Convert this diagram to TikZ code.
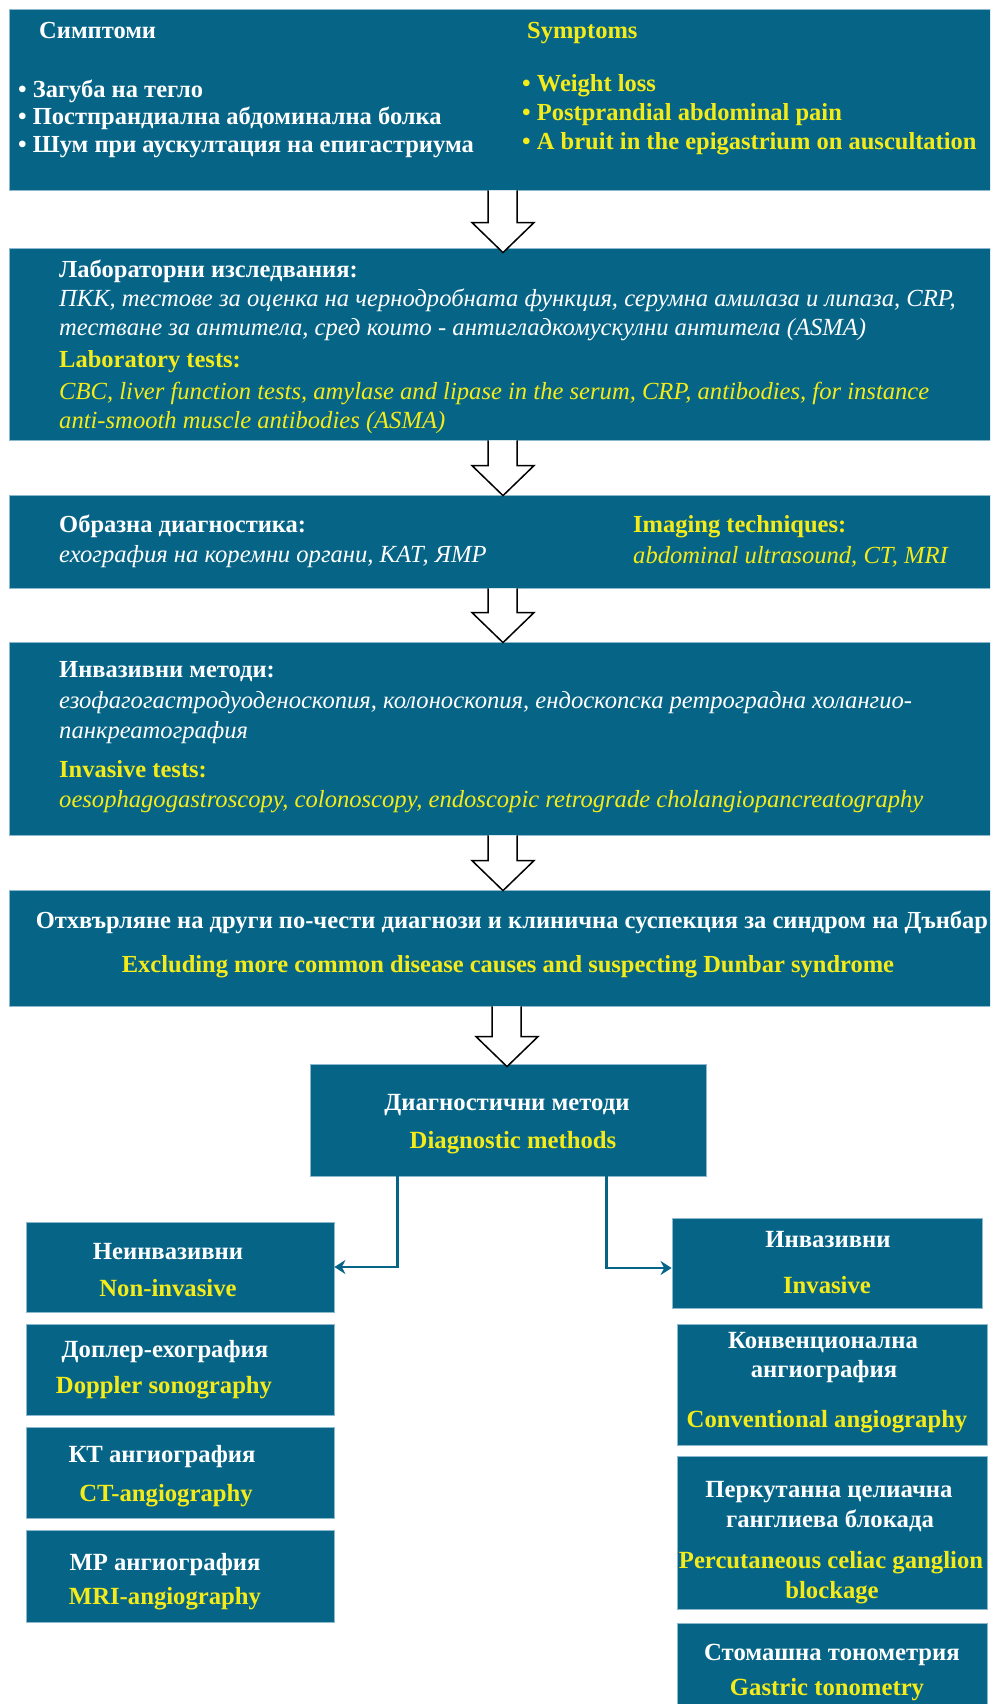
\documentclass[tikz,border=0pt]{standalone}
\usepackage{fontspec}
\setmainfont{Liberation Serif}
\usetikzlibrary{calc,fit,arrows.meta}
\definecolor{teal1}{RGB}{6,101,135}
\definecolor{ylw}{RGB}{245,235,25}
\definecolor{edgec}{RGB}{140,185,205}
\newcommand\blkarrow[4]{%
  \path let \p1=(#1.south), \p2=(#2.north) in
    [draw=black, fill=white, line width=1.5pt, line join=miter]
    ({#3pt-15pt},\y1) -- ({#3pt-15pt},{\y2+#4pt+30pt}) -- ({#3pt-31pt},{\y2+#4pt+30pt})
    -- ({#3pt},{\y2+#4pt}) -- ({#3pt+31pt},{\y2+#4pt+30pt}) -- ({#3pt+14pt},{\y2+#4pt+30pt})
    -- ({#3pt+14pt},\y1);}
\begin{document}
\begin{tikzpicture}[x=1pt,y=-1pt,
  box/.style={fill=teal1, draw=edgec, line width=0.8pt, inner sep=0pt},
  wb/.style={text=white, font=\fontsize{24.5}{29}\selectfont\bfseries, inner sep=0pt},
  yb/.style={text=ylw, font=\fontsize{24.5}{29}\selectfont\bfseries, inner sep=0pt},
  wi/.style={text=white, font=\fontsize{24.6}{29}\selectfont\itshape, inner sep=0pt},
  yi/.style={text=ylw, font=\fontsize{24.6}{29}\selectfont\itshape, inner sep=0pt},
  ws/.style={text=white, font=\fontsize{24.7}{29}\selectfont\bfseries, inner sep=0pt},
  ys/.style={text=ylw, font=\fontsize{24.7}{29}\selectfont\bfseries, inner sep=0pt},
  conn/.style={draw=teal1, line width=2.5pt, -{Stealth[length=11pt,width=14pt]}}]
\useasboundingbox (0,0) rectangle (990,1704);
\clip (0,0) rectangle (990,1704);
\fill[white] (0,0) rectangle (990,1704);
% boxes
\node[box, fit={(9,9) (992,190)}] (b1) {};
\node[box, fit={(9,248) (992,440)}] (b2) {};
\node[box, fit={(9,495) (992,588)}] (b3) {};
\node[box, fit={(9,642) (992,835)}] (b4) {};
\node[box, fit={(9,890) (992,1006)}] (b5) {};
\node[box, fit={(310,1064) (706,1176)}] (b6) {};
\node[box, fit={(26,1222) (334,1312)}] (bn) {};
\node[box, fit={(672,1218) (982,1308)}] (bi) {};
\node[box, fit={(26,1324) (334,1415)}] (ln1) {};
\node[box, fit={(26,1427) (334,1518)}] (ln2) {};
\node[box, fit={(26,1530) (334,1622)}] (ln3) {};
\node[box, fit={(677,1324) (987,1445)}] (rn1) {};
\node[box, fit={(677,1456) (987,1609)}] (rn2) {};
\node[box, fit={(677,1623) (987,1720)}] (rn3) {};
% block arrows
\blkarrow{b1}{b2}{503}{-5}
\blkarrow{b2}{b3}{503}{-1}
\blkarrow{b3}{b4}{503}{-1}
\blkarrow{b4}{b5}{503}{-1}
\blkarrow{b5}{b6}{507}{-3}
% connectors
\draw[conn] ([xshift=88pt]b6.south west) |- (bn.east);
\draw[conn] ([xshift=-100pt]b6.south east) |- ([yshift=-5pt]bi.west);
% box 1 text
\node[wb, anchor=base west] (t1a) at (39,39) {Симптоми};
\node[yb, anchor=base west] (t1b) at (527,39) {Symptoms};
\node[wb, anchor=base west] (t1c) at (18,98) {• Загуба на тегло};
\node[wb, anchor=base west] (t1d) at (18,125) {• Постпрандиална абдоминална болка};
\node[wb, anchor=base west] (t1e) at (18,153) {• Шум при аускултация на епигастриума};
\node[yb, anchor=base west] (t1f) at (522,92) {• Weight loss};
\node[yb, anchor=base west] (t1g) at (522,121) {• Postprandial abdominal pain};
\node[yb, anchor=base west] (t1h) at (522,150) {• A bruit in the epigastrium on auscultation};
% box 2 text
\node[wb, anchor=base west] (t2a) at (59,277) {Лабораторни изследвания:};
\node[wi, anchor=base west] (t2b) at (59,306) {ПКК, тестове за оценка на чернодробната функция, серумна амилаза и липаза, CRP,};
\node[wi, anchor=base west] (t2c) at (59,335) {тестване за антитела, сред които - антигладкомускулни антитела (ASMA)};
\node[yb, anchor=base west] (t2d) at (59,367) {Laboratory tests:};
\node[yi, anchor=base west] (t2e) at (59,399) {CBC, liver function tests, amylase and lipase in the serum, CRP, antibodies, for instance};
\node[yi, anchor=base west] (t2f) at (59,428) {anti-smooth muscle antibodies (ASMA)};
% box 3 text
\node[wb, anchor=base west] (t3a) at (59,532) {Образна диагностика:};
\node[wi, anchor=base west] (t3b) at (59,562) {ехография на коремни органи, КАТ, ЯМР};
\node[yb, anchor=base west] (t3c) at (633,532) {Imaging techniques:};
\node[yi, anchor=base west] (t3d) at (633,563) {abdominal ultrasound, CT, MRI};
% box 4 text
\node[wb, anchor=base west] (t4a) at (59,677) {Инвазивни методи:};
\node[wi, anchor=base west] (t4b) at (59,708) {езофагогастродуоденоскопия, колоноскопия, ендоскопска ретроградна холангио-};
\node[wi, anchor=base west] (t4c) at (59,738) {панкреатография};
\node[yb, anchor=base west] (t4d) at (59,777) {Invasive tests:};
\node[yi, anchor=base west] (t4e) at (59,807) {oesophagogastroscopy, colonoscopy, endoscopic retrograde cholangiopancreatography};
% box 5 text
\node[wb, anchor=base] (t5a) at (512,928) {Отхвърляне на други по-чести диагнози и клинична суспекция за синдром на Дънбар};
\node[yb, anchor=base] (t5b) at (508,972) {Excluding more common disease causes and suspecting Dunbar syndrome};
% box 6 text
\node[ws, anchor=base] (t6a) at (507,1110) {Диагностични методи};
\node[ys, anchor=base] (t6b) at (513,1148) {Diagnostic methods};
% non-invasive
\node[ws, anchor=base] (tna) at (168,1259) {Неинвазивни};
\node[ys, anchor=base] (tnb) at (168,1296) {Non-invasive};
\node[ws, anchor=base] (tl1a) at (165,1357) {Доплер-ехография};
\node[ys, anchor=base] (tl1b) at (164,1393) {Doppler sonography};
\node[ws, anchor=base] (tl2a) at (162,1462) {КТ ангиография};
\node[ys, anchor=base] (tl2b) at (166,1501) {CT-angiography};
\node[ws, anchor=base] (tl3a) at (165,1570) {МР ангиография};
\node[ys, anchor=base] (tl3b) at (165,1604) {MRI-angiography};
% invasive
\node[ws, anchor=base] (tia) at (828,1247) {Инвазивни};
\node[ys, anchor=base] (tib) at (827,1293) {Invasive};
\node[ws, anchor=base] (tr1a) at (823,1348) {Конвенционална};
\node[ws, anchor=base] (tr1b) at (824,1377) {ангиография};
\node[ys, anchor=base] (tr1c) at (827,1427) {Conventional angiography};
\node[ws, anchor=base] (tr2a) at (829,1497) {Перкутанна целиачна};
\node[ws, anchor=base] (tr2b) at (830,1527) {ганглиева блокада};
\node[ys, anchor=base] (tr2c) at (831,1568) {Percutaneous celiac ganglion};
\node[ys, anchor=base] (tr2d) at (832,1598) {blockage};
\node[ws, anchor=base] (tr3a) at (832,1660) {Стомашна тонометрия};
\node[ys, anchor=base] (tr3b) at (827,1695) {Gastric tonometry};
\end{tikzpicture}
\end{document}
